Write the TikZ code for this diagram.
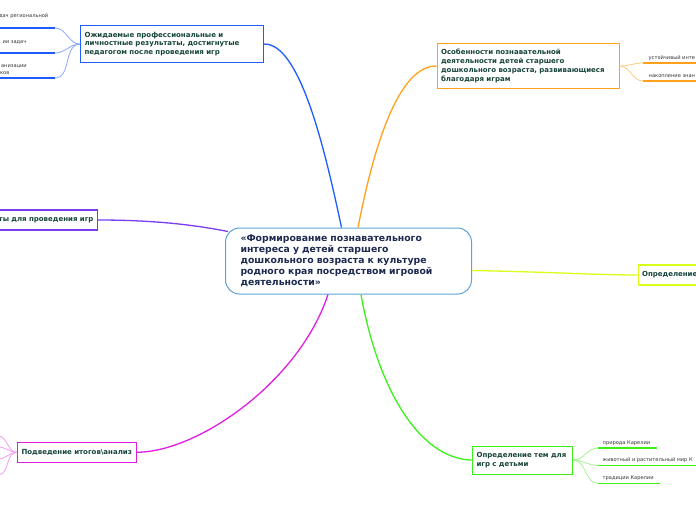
\documentclass[tikz,border=0pt]{standalone}
\usepackage{fontspec}
\setmainfont{DejaVu Sans}
\definecolor{blueC}{HTML}{1F5BFF}
\definecolor{blueL}{HTML}{8AA6FF}
\definecolor{orangeC}{HTML}{FFA11A}
\definecolor{orangeL}{HTML}{FFCB7A}
\definecolor{purpleC}{HTML}{7A3CF0}
\definecolor{limeC}{HTML}{D9FF1A}
\definecolor{greenC}{HTML}{3CF01A}
\definecolor{greenL}{HTML}{A2F58E}
\definecolor{magC}{HTML}{E01EE0}
\definecolor{magL}{HTML}{F59AF5}
\definecolor{centerC}{HTML}{5BA3D9}
\definecolor{textC}{HTML}{17443A}
\definecolor{navyC}{HTML}{1C2A50}
\definecolor{subC}{HTML}{333333}
\tikzset{
  topic/.style={draw, line width=1.1pt, fill=white, text=textC, align=left,
    font=\bfseries\fontsize{7}{8.8}\selectfont, inner xsep=4pt, inner ysep=2pt},
  central/.style={draw=centerC, line width=1pt, fill=white, rounded corners=14pt,
    text=navyC, align=left, font=\bfseries\fontsize{9.3}{11}\selectfont,
    inner xsep=15pt, minimum height=66pt},
  mainconn/.style={line width=1.3pt},
  subconn/.style={line width=0.8pt},
  uline/.style={line width=1.6pt},
  subtext/.style={text=subC, font=\fontsize{5.1}{6.2}\selectfont, inner sep=0pt}
}
\begin{document}
\begin{tikzpicture}[x=1pt,y=-1pt]
\useasboundingbox (0,0) rectangle (696,520);
% central
\node[central, text width=216pt, anchor=north west] (c) at (225,227.5)
 {«Формирование познавательного\\интереса у детей старшего\\дошкольного возраста к культуре\\родного края посредством игровой\\деятельности»};
% topics
\node[topic, draw=blueC, anchor=north west, text width=175pt, minimum height=37pt] (blue) at (80,25)
 {Ожидаемые профессиональные и\\личностные результаты, достигнутые\\педагогом после проведения игр};
\node[topic, draw=orangeC, anchor=north west, text width=174pt, minimum height=45pt] (orange) at (436.5,43)
 {Особенности познавательной\\деятельности детей старшего\\дошкольного возраста, развивающиеся\\благодаря играм};
\node[topic, draw=purpleC, anchor=east, text width=132pt, align=right, minimum height=20pt] (purple) at (98,220)
 {ты для проведения игр};
\node[topic, draw=limeC, anchor=west, text width=82pt, minimum height=20pt] (lime) at (637.5,275)
 {Определение};
\node[topic, draw=greenC, anchor=north west, text width=92pt, minimum height=28pt] (green) at (472,445.5)
 {Определение тем для\\игр с детьми};
\node[topic, draw=magC, anchor=north west, text width=111pt, minimum height=19.5pt] (mag) at (17,442)
 {Подведение итогов\textbackslash анализ};
% main connectors
\draw[mainconn, blueC] ([xshift=-7pt]c.north) .. controls (325,150) and (300,43) .. (blue.east);
\draw[mainconn, orangeC] ([xshift=9.5pt]c.north) .. controls (375,140) and (400,65.5) .. (orange.west);
\draw[mainconn, purpleC] (purple.east) .. controls (160,220) and (200,226) .. (228,231.5);
\draw[mainconn, limeC] ([yshift=-9.5pt]c.east) .. controls (550,272) and (600,275) .. (lime.west);
\draw[mainconn, greenC] ([xshift=12.5pt]c.south) .. controls (378,390) and (420,459) .. (green.west);
\draw[mainconn, magC] ([xshift=-20.5pt]c.south) .. controls (300,380) and (200,451.5) .. (mag.east);
% blue subtopics
\coordinate (b1s) at (-2,28); \coordinate (b1e) at (55,28);
\coordinate (b2s) at (-2,53); \coordinate (b2e) at (55,53);
\coordinate (b3s) at (-2,78); \coordinate (b3e) at (55,78);
\draw[subconn, blueL] (blue.west) to[out=180,in=0] (b1e);
\draw[subconn, blueL] (blue.west) to[out=180,in=0] (b2e);
\draw[subconn, blueL] (blue.west) to[out=180,in=0] (b3e);
\draw[uline, blueC] (b1s) -- (b1e);
\draw[uline, blueC] (b2s) -- (b2e);
\draw[uline, blueC] (b3s) -- (b3e);
\node[subtext, anchor=base east] (bt1) at (48.5,17.5) {дач региональной};
\node[subtext, anchor=base east] (bt2) at (26.5,43.5) {ии задач};
\node[subtext, anchor=base east] (bt3a) at (27,67) {анизации};
\node[subtext, anchor=base east] (bt3b) at (9.5,74) {ков};
% orange subtopics
\coordinate (o1s) at (643,63); \coordinate (o1e) at (700,63);
\coordinate (o2s) at (643,81); \coordinate (o2e) at (700,81);
\draw[subconn, orangeL] (orange.east) to[out=0,in=180] (o1s);
\draw[subconn, orangeL] (orange.east) to[out=0,in=180] (o2s);
\draw[uline, orangeC] (o1s) -- (o1e);
\draw[uline, orangeC] (o2s) -- (o2e);
\node[subtext, anchor=base west] (ot1) at (648.5,59) {устойчивый инте};
\node[subtext, anchor=base west] (ot2) at (648.5,77) {накопление знан};
% green subtopics
\coordinate (g1s) at (598,448); \coordinate (g1e) at (657,448);
\coordinate (g2s) at (598,465.5); \coordinate (g2e) at (700,465.5);
\coordinate (g3s) at (598,483.5); \coordinate (g3e) at (660,483.5);
\draw[subconn, greenL] (green.east) to[out=0,in=180] (g1s);
\draw[subconn, greenL] (green.east) to[out=0,in=180] (g2s);
\draw[subconn, greenL] (green.east) to[out=0,in=180] (g3s);
\draw[uline, greenC] (g1s) -- (g1e);
\draw[uline, greenC] (g2s) -- (g2e);
\draw[uline, greenC] (g3s) -- (g3e);
\node[subtext, anchor=base west] (gt1) at (602.5,444) {природа Карелии};
\node[subtext, anchor=base west] (gt2) at (602.5,461.5) {животный и растительный мир К};
\node[subtext, anchor=base west] (gt3) at (602.5,479.5) {традиции Карелии};
% magenta subtopics
\coordinate (m1) at (-2,436); \coordinate (m2) at (-2,447);
\coordinate (m3) at (-2,459); \coordinate (m4) at (-2,475);
\draw[subconn, magL] (mag.west) to[out=180,in=0] (m1);
\draw[subconn, magL] (mag.west) to[out=180,in=0] (m2);
\draw[subconn, magL] (mag.west) to[out=180,in=0] (m3);
\draw[subconn, magL] (mag.west) to[out=180,in=0] (m4);
\end{tikzpicture}
\end{document}
